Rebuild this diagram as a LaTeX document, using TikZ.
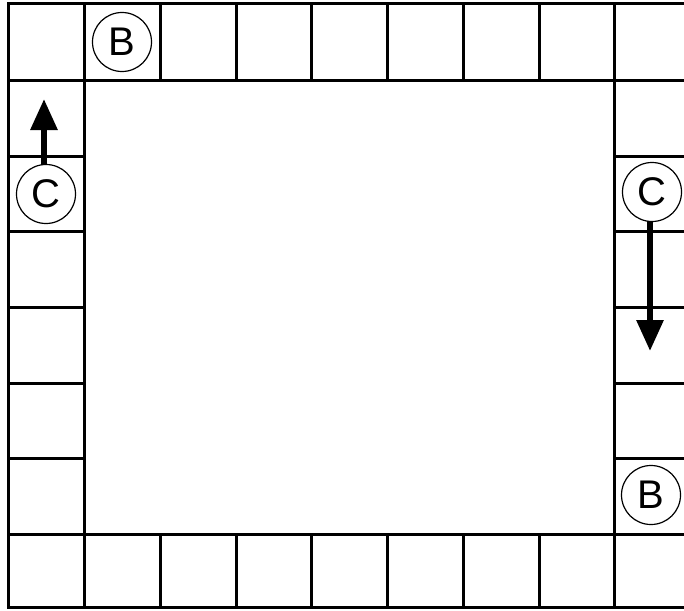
\documentclass[tikz,border=0pt]{standalone}
\usepackage{fontspec}
\setmainfont{Liberation Sans}
\usetikzlibrary{arrows.meta}
\tikzset{
  grid/.style={line width=3pt, line cap=rect},
  mark circle/.style={circle, draw, line width=1.2pt, minimum size=59pt, inner sep=0pt, font=\fontsize{40}{40}\selectfont},
  move arrow/.style={line width=6pt, -{Triangle[length=31pt,width=26pt]}, shorten <=-1pt}
}
\begin{document}
\begin{tikzpicture}[x=1pt,y=-1pt]
\useasboundingbox (0,0) rectangle (684,610);
\begin{scope}
\clip (0,0) rectangle (684,610);
% outer horizontals
\foreach \y in {4,80,534,607} \draw[grid] (8,\y) -- (690,\y);
% main verticals
\foreach \x in {8,84,614} \draw[grid] (\x,4) -- (\x,607);
% top and bottom row dividers
\foreach \x in {160,236,311,387,463,539} {
  \draw[grid] (\x,4) -- (\x,80);
  \draw[grid] (\x,534) -- (\x,607);
}
% side column dividers
\foreach \y in {156,231,307,383,458} {
  \draw[grid] (8,\y) -- (84,\y);
  \draw[grid] (614,\y) -- (690,\y);
}
\end{scope}
\node[mark circle] (b1) at (122,42) {B};
\node[mark circle] (b2) at (651,495) {B};
\node[mark circle] (c1) at (46,194) {C};
\node[mark circle] (c2) at (652,192) {C};
\coordinate (t1) at (44,99);
\coordinate (t2) at (650,351);
\draw[move arrow] (c1.north -| t1) -- (t1);
\draw[move arrow] (c2.south -| t2) -- (t2);
\end{tikzpicture}
\end{document}
